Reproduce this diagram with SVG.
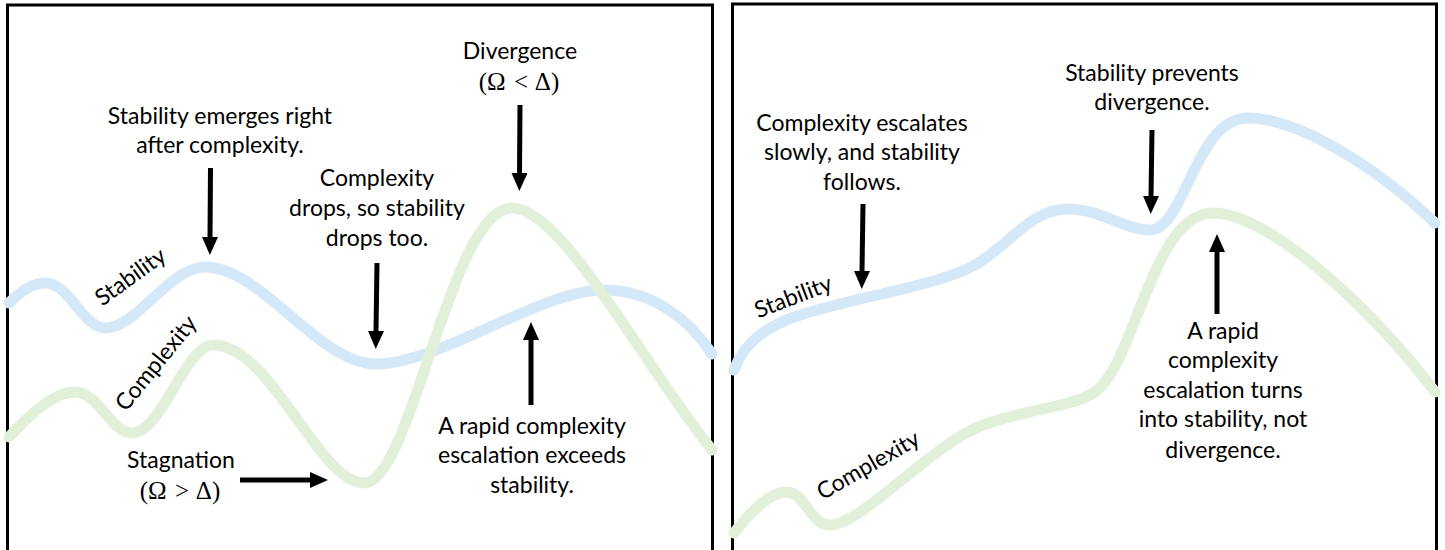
<svg xmlns="http://www.w3.org/2000/svg" width="1445" height="550" viewBox="0 0 1445 550">
  <defs>
    <style>
      .frame { fill: #ffffff; stroke: #000000; stroke-width: 3; }
      .stab { fill: none; stroke: #d5e8f7; stroke-width: 11; stroke-linecap: round; stroke-linejoin: round; }
      .comp { fill: none; stroke: #e2f0d9; stroke-width: 11; stroke-linecap: round; stroke-linejoin: round; }
      .lbl { font-family: Lato, "Liberation Sans", sans-serif; font-size: 23px; fill: #000000; text-anchor: middle; }
      .math { font-family: "Liberation Serif", "DejaVu Serif", serif; font-size: 25px; fill: #000000; text-anchor: middle; word-spacing: 2px; }
      .arrow { fill: none; stroke: #000000; stroke-width: 5; marker-end: url(#head); }
    </style>
    <marker id="head" markerUnits="userSpaceOnUse" markerWidth="18" markerHeight="16" refX="0" refY="8" orient="auto" viewBox="0 0 18 16">
      <path d="M0,0 L18,8 L0,16 z" fill="#000000"/>
    </marker>
  </defs>

  <!-- panel frames (bottom edge runs off the page) -->
  <g id="panel-left">
    <rect class="frame" x="7.5" y="5" width="705" height="560"/>
  </g>
  <g id="panel-right">
    <rect class="frame" x="732.5" y="4" width="704" height="560"/>
  </g>

  <!-- left panel curves -->
  <g id="left-stability-curve">
    <path class="stab" d="M9,303 C20,292 32,283 45,283 C70,283 82,328 106,328 C136,328 170,267 205,267 C262,267 318,364 376,364 C440,364 540,290 604,290 C652,290 690,320 712,354"/>
    <text class="lbl" transform="translate(135,283) rotate(-36)">Stability</text>
  </g>
  <g id="left-complexity-curve">
    <path class="comp" d="M9,437 C30,414 55,392 74,392 C100,392 110,433 132,433 C162,433 185,345 213,345 C272,345 318,483 364,483 C412,483 450,208 512,208 C562,208 640,360 712,450"/>
    <text class="lbl" transform="translate(162,368) rotate(-51)">Complexity</text>
  </g>

  <!-- right panel curves -->
  <g id="right-stability-curve">
    <path class="stab" d="M734,370 C745,340 770,325 800,315 C860,296 940,285 975,265 C1010,245 1030,209 1068,209 C1100,209 1125,230 1150,230 C1185,230 1195,118 1248,118 C1300,118 1380,170 1435,223"/>
    <text class="lbl" transform="translate(796,304) rotate(-21)">Stability</text>
  </g>
  <g id="right-complexity-curve">
    <path class="comp" d="M734,533 C752,510 770,492 787,492 C805,492 810,525 830,525 C862,525 930,445 983,425 C1030,408 1070,408 1095,392 C1135,365 1152,213 1213,213 C1272,213 1380,318 1435,392"/>
    <text class="lbl" transform="translate(872,472) rotate(-30)">Complexity</text>
  </g>

  <!-- annotations -->
  <g id="note-emerges">
    <text class="lbl" x="220" y="124">Stability emerges right</text>
    <text class="lbl" x="220" y="153">after complexity.</text>
  </g>
  <g id="note-drops">
    <text class="lbl" x="377" y="186">Complexity</text>
    <text class="lbl" x="377" y="216">drops, so stability</text>
    <text class="lbl" x="377" y="246">drops too.</text>
  </g>
  <g id="note-divergence">
    <text class="lbl" x="520" y="59">Divergence</text>
    <text class="math" x="519" y="90">(Ω &lt; Δ)</text>
  </g>
  <g id="note-exceeds">
    <text class="lbl" x="532" y="434">A rapid complexity</text>
    <text class="lbl" x="532" y="463">escalation exceeds</text>
    <text class="lbl" x="532" y="493">stability.</text>
  </g>
  <g id="note-stagnation">
    <text class="lbl" x="181" y="468">Stagnation</text>
    <text class="math" x="180" y="499">(Ω &gt; Δ)</text>
  </g>
  <g id="note-follows">
    <text class="lbl" x="862" y="131">Complexity escalates</text>
    <text class="lbl" x="862" y="160">slowly, and stability</text>
    <text class="lbl" x="862" y="190">follows.</text>
  </g>
  <g id="note-prevents">
    <text class="lbl" x="1152" y="81">Stability prevents</text>
    <text class="lbl" x="1152" y="110">divergence.</text>
  </g>
  <g id="note-turns">
    <text class="lbl" x="1223" y="339">A rapid</text>
    <text class="lbl" x="1223" y="368">complexity</text>
    <text class="lbl" x="1223" y="398">escalation turns</text>
    <text class="lbl" x="1223" y="427">into stability, not</text>
    <text class="lbl" x="1223" y="458">divergence.</text>
  </g>

  <!-- connectors -->
  <g id="connectors">
    <line class="arrow" x1="210.5" y1="168" x2="210" y2="237"/>
    <line class="arrow" x1="377" y1="263" x2="376" y2="331"/>
    <line class="arrow" x1="520" y1="105" x2="519.5" y2="173"/>
    <line class="arrow" x1="531" y1="405" x2="531" y2="340"/>
    <line class="arrow" x1="240" y1="480" x2="310" y2="480"/>
    <line class="arrow" x1="863" y1="204" x2="862" y2="271"/>
    <line class="arrow" x1="1152" y1="130" x2="1151" y2="196"/>
    <line class="arrow" x1="1217" y1="314" x2="1217" y2="252"/>
  </g>
</svg>
